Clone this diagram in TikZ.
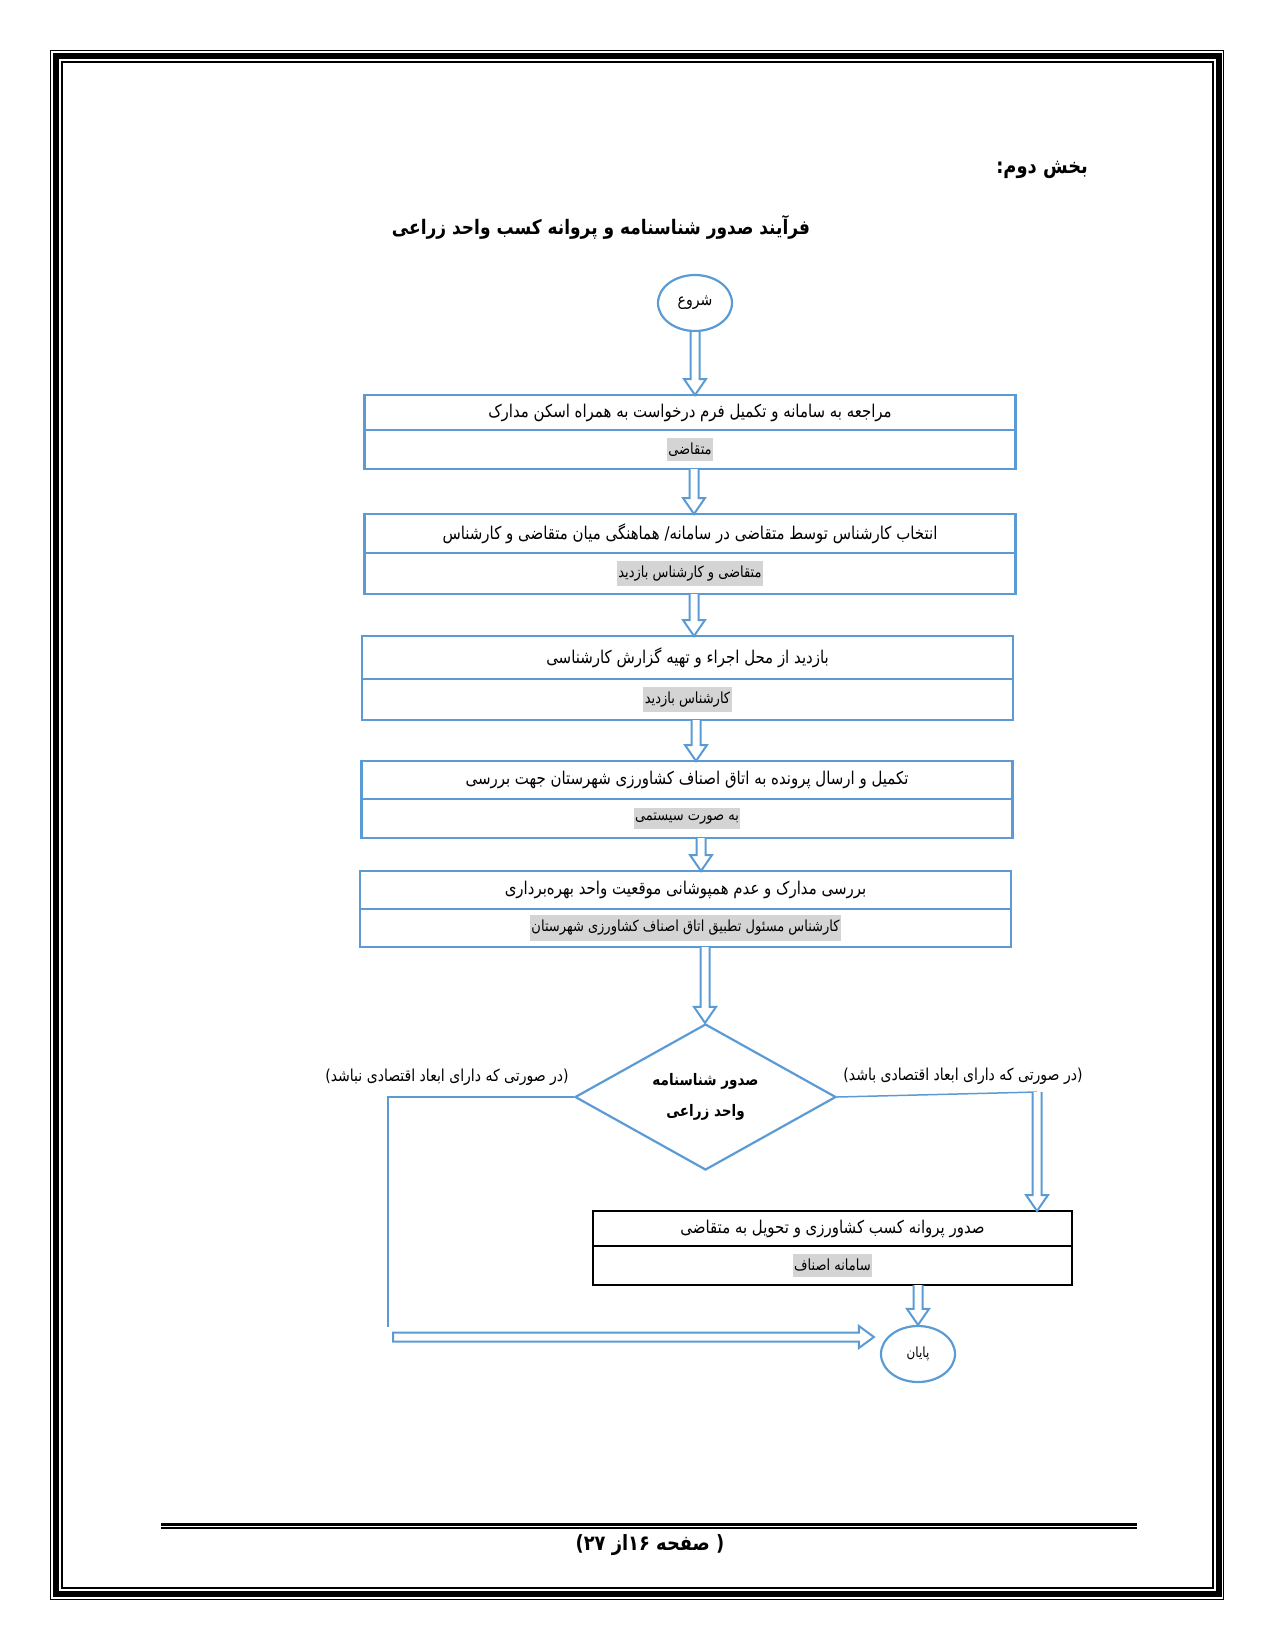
\documentclass[tikz,border=0pt]{standalone}
\usepackage{fontspec}
\usepackage{xcolor}
\usepackage{tikz}
\usetikzlibrary{positioning,shapes.geometric,calc}
\TeXXeTstate=1
\newfontfamily\farsi[Script=Arabic, FakeStretch=0.85]{DejaVu Sans}
\newcommand{\rtl}[1]{\beginR #1\endR}
\definecolor{flowblue}{RGB}{91,155,213}
\definecolor{taggray}{RGB}{212,212,212}
\tikzset{
	stepbox/.style={rectangle, draw=flowblue, line width=2.2pt, minimum width=651pt, inner sep=0pt, outer sep=0pt, font=\farsi\fontsize{17.6}{20}\selectfont},
	rolebox/.style={rectangle, draw=flowblue, line width=2.2pt, minimum width=651pt, inner sep=0pt, outer sep=0pt},
	roletag/.style={fill=taggray, inner xsep=1.5pt, inner ysep=5pt, font=\farsi\fontsize{15.3}{17}\selectfont}
}
\tikzset{
	termnode/.style={ellipse, draw=flowblue, line width=2.2pt, minimum width=74pt, minimum height=56pt, inner sep=0pt, font=\farsi\fontsize{16.5}{18}\selectfont},
	decnode/.style={diamond, aspect=1.8, draw=flowblue, line width=2.2pt, minimum width=261pt, minimum height=146pt, inner sep=0pt, align=center, font=\farsi\bfseries\fontsize{15.9}{31}\selectfont},
	condlabel/.style={inner sep=0pt, font=\farsi\fontsize{16.5}{18}\selectfont},
	flowline/.style={draw=flowblue, line width=1.5pt},
	dnarrow/.style={draw=flowblue, line width=2pt, fill=white, to path={let \p1=(\tikztostart), \p2=(\tikztotarget) in (\x1-4.5pt,\y1) -- (\x1-4.5pt,\y2+16pt) -- (\x1-11pt,\y2+16pt) -- (\x1,\y2) -- (\x1+11pt,\y2+16pt) -- (\x1+4.5pt,\y2+16pt) -- (\x1+4.5pt,\y1)}},
	rtarrow/.style={draw=flowblue, line width=2pt, fill=white, to path={let \p1=(\tikztostart), \p2=(\tikztotarget) in (\x1,\y1+4.5pt) -- (\x2-15pt,\y1+4.5pt) -- (\x2-15pt,\y1+11pt) -- (\x2,\y1) -- (\x2-15pt,\y1-11pt) -- (\x2-15pt,\y1-4.5pt) -- (\x1,\y1-4.5pt) -- cycle}}
}
\begin{document}
\begin{tikzpicture}[x=1pt,y=-1pt]
		\useasboundingbox (0,0) rectangle (1275,1650);
		%page frame
		\draw[line width=1pt] (50.5,50.5) rectangle (1223,1599);
		\draw[line width=6pt] (56.3,56.3) rectangle (1218.5,1593.5);
		\draw[line width=2.3pt] (61.8,61.8) rectangle (1213,1587.8);
		
		\node[anchor=east, inner sep=0pt, font=\farsi\bfseries\fontsize{21}{23}\selectfont] (part) at (1088,170) {\rtl{بخش دوم:}};
		\node[inner sep=0pt, font=\farsi\bfseries\fontsize{20}{22}\selectfont] (title) at (601,227) {\rtl{فرآیند صدور شناسنامه و پروانه کسب واحد زراعی}};
		
		\node[termnode] (start) at (695,303) {\rtl{شروع}};
		
		\node[stepbox, minimum height=35pt] (b1t) at (690,412.5) {\rtl{مراجعه به سامانه و تکمیل فرم درخواست به همراه اسکن مدارک}};
		\node[rolebox, minimum height=39pt, below=0pt of b1t] (b1r) {};
		\node[roletag] (b1g) at (b1r) {\rtl{متقاضی}};
		
		\node[stepbox, minimum height=39pt] (b2t) at (690,533.5) {\rtl{انتخاب کارشناس توسط متقاضی در سامانه/ هماهنگی میان متقاضی و کارشناس}};
		\node[rolebox, minimum height=41pt, below=0pt of b2t] (b2r) {};
		\node[roletag] (b2g) at (b2r) {\rtl{متقاضی و کارشناس بازدید}};
		
		\node[stepbox, minimum height=43pt] (b3t) at (687.5,657.5) {\rtl{بازدید از محل اجراء و تهیه گزارش کارشناسی}};
		\node[rolebox, minimum height=41pt, below=0pt of b3t] (b3r) {};
		\node[roletag] (b3g) at (b3r) {\rtl{کارشناس بازدید}};
		
		\node[stepbox, minimum height=38pt] (b4t) at (687,780) {\rtl{تکمیل و ارسال پرونده به اتاق اصناف کشاورزی شهرستان جهت بررسی}};
		\node[rolebox, minimum height=39pt, below=0pt of b4t] (b4r) {};
		\node[roletag] (b4g) at (b4r) {\rtl{به صورت سیستمی}};
		
		\node[stepbox, minimum height=38pt] (b5t) at (685.5,890) {\rtl{بررسی مدارک و عدم همپوشانی موقعیت واحد بهره‌برداری}};
		\node[rolebox, minimum height=38pt, below=0pt of b5t] (b5r) {};
		\node[roletag] (b5g) at (b5r) {\rtl{کارشناس مسئول تطبیق اتاق اصناف کشاورزی شهرستان}};
		
		\node[decnode] (dec) at (705.5,1097) {\rtl{صدور شناسنامه}\\\rtl{واحد زراعی}};
		\node[condlabel] (nolab) at (447,1077) {\rtl{(در صورتی که دارای ابعاد اقتصادی نباشد)}};
		\node[condlabel] (yeslab) at (963,1076) {\rtl{(در صورتی که دارای ابعاد اقتصادی باشد)}};
		
		\node[stepbox, draw=black, minimum width=479pt, minimum height=35pt] (b6t) at (832.5,1228.5) {\rtl{صدور پروانه کسب کشاورزی و تحویل به متقاضی}};
		\node[rolebox, draw=black, minimum width=479pt, minimum height=39pt, below=0pt of b6t] (b6r) {};
		\node[roletag] (b6g) at (b6r) {\rtl{سامانه اصناف}};
		
		\node[termnode, font=\farsi\fontsize{14}{16}\selectfont] (stop) at (918,1354) {\rtl{پایان}};
		
		\coordinate (noturn) at (388,1327);
		\coordinate (noend) at (393,1337);
		\coordinate (yesturn) at (1037,1092);
		
		%Lines
		\draw[dnarrow] (start.south) to (b1t.north);
		\draw[dnarrow] ([xshift=4pt]b1r.south) to (b2t.north);
		\draw[dnarrow] ([xshift=4pt]b2r.south) to (b3t.north);
		\draw[dnarrow] ([xshift=8.5pt]b3r.south) to (b4t.north);
		\draw[dnarrow] ([xshift=14pt]b4r.south) to (b5t.north);
		\draw[dnarrow] ([xshift=19.5pt]b5r.south) to (dec.north);
		
		\draw[flowline] (dec.west) -| (noturn);
		\draw[rtarrow] (noend) to ([xshift=-6pt]noend -| stop.west);
		\draw[flowline] (dec.east) -- (yesturn);
		\draw[dnarrow] (yesturn) to (b6t.north);
		\draw[dnarrow] (b6r.south -| stop) to (stop.north);
		
		%footer
		\draw[line width=2.5pt] (161,1524.5) -- (1137,1524.5);
		\draw[line width=1.3pt] (161,1528) -- (1137,1528);
		\node[inner sep=0pt, font=\farsi\bfseries\fontsize{21}{23}\selectfont] (pageno) at (650,1545) {\rtl{( صفحه ۱۶از ۲۷)}};
	\end{tikzpicture}
\end{document}
